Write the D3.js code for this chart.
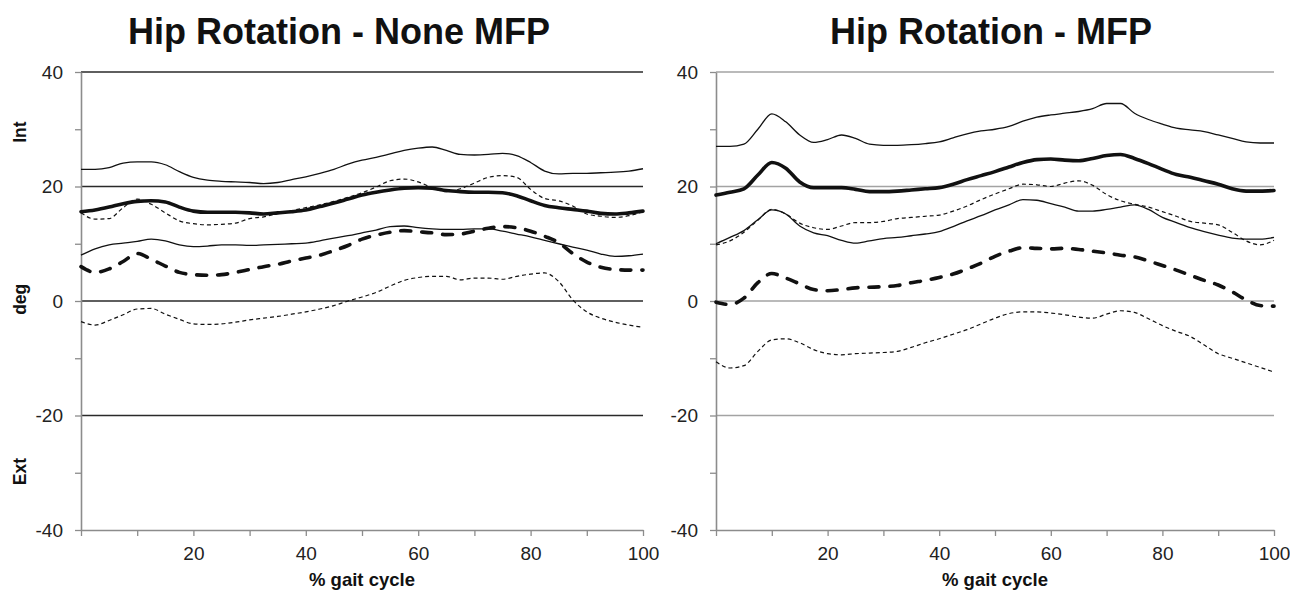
<!DOCTYPE html>
<html><head><meta charset="utf-8">
<script src="https://cdn.jsdelivr.net/npm/d3@7"></script>
<style>body{margin:0;background:#fff}svg{display:block}</style></head>
<body><svg id="c" width="1290" height="592"></svg>
<script>
// ---- data ----
const gait = [0,2.5,5,7.5,10,12.5,15,17.5,20,22.5,25,27.5,30,32.5,35,37.5,40,42.5,45,47.5,50,52.5,55,57.5,60,62.5,65,67.5,70,72.5,75,77.5,80,82.5,85,87.5,90,92.5,95,97.5,100];
const yTickValues = [-40,-30,-20,-10,0,10,20,30,40];
const xTickValues = [0,10,20,30,40,50,60,70,80,90,100];
const titles = ["Hip Rotation - None MFP", "Hip Rotation - MFP"];
const sideLabels = ["Int", "deg", "Ext"];
const sideLabelValues = [29.5, 0.3, -29.8];

// None MFP
const noneSolidUpper = [23.0,23.0,23.3,24.1,24.3,24.3,23.8,22.6,21.6,21.1,20.9,20.8,20.7,20.5,20.7,21.2,21.7,22.3,23.0,23.9,24.6,25.1,25.7,26.3,26.7,26.9,26.3,25.6,25.5,25.6,25.8,25.4,24.2,22.7,22.2,22.3,22.3,22.4,22.5,22.7,23.1];
const noneSolidMean  = [15.6,15.9,16.4,17.0,17.4,17.5,17.3,16.4,15.7,15.5,15.5,15.5,15.4,15.2,15.4,15.6,15.9,16.5,17.1,17.8,18.5,19.0,19.4,19.7,19.8,19.7,19.3,19.1,19.0,19.0,18.9,18.4,17.5,16.7,16.3,16.0,15.7,15.3,15.2,15.4,15.7];
const noneSolidLower = [8.0,9.1,9.8,10.1,10.4,10.8,10.5,9.8,9.5,9.6,9.8,9.8,9.7,9.8,9.9,10.0,10.1,10.5,11.0,11.4,11.9,12.4,13.0,13.1,12.8,12.6,12.5,12.5,12.6,12.6,12.2,11.7,11.2,10.6,10.0,9.4,8.9,8.2,7.8,7.9,8.2];
const noneDashUpper  = [15.4,14.3,14.4,16.3,17.8,16.9,15.4,14.0,13.5,13.3,13.4,13.6,14.4,14.7,15.3,15.8,16.3,16.8,17.4,18.1,18.9,19.9,21.0,21.3,20.8,19.8,19.1,19.6,20.6,21.6,21.9,21.6,19.5,17.9,17.5,16.6,15.2,14.8,14.6,14.9,15.6];
const noneDashMean   = [6.0,5.0,5.6,6.9,8.3,7.3,6.1,5.0,4.6,4.5,4.6,5.0,5.5,6.0,6.4,7.0,7.5,8.0,8.8,9.7,10.8,11.5,12.0,12.3,12.1,11.9,11.6,11.7,12.2,12.7,13.0,12.8,12.2,11.3,10.2,8.3,6.8,5.9,5.5,5.4,5.4];
const noneDashLower  = [-3.6,-4.2,-3.4,-2.4,-1.4,-1.3,-2.3,-3.2,-4.0,-4.1,-4.0,-3.7,-3.3,-3.0,-2.7,-2.3,-1.9,-1.4,-0.8,0.0,0.7,1.5,2.6,3.6,4.1,4.3,4.3,3.7,4.0,4.0,3.8,4.3,4.7,4.9,3.4,0.2,-1.9,-3.0,-3.7,-4.2,-4.6];

// MFP
const mfpSolidUpper = [27.0,27.0,27.4,30.0,32.7,31.3,29.0,27.7,28.2,29.0,28.4,27.4,27.2,27.2,27.3,27.5,27.8,28.5,29.2,29.7,30.0,30.5,31.4,32.1,32.5,32.8,33.1,33.6,34.5,34.5,32.8,31.7,30.9,30.2,29.9,29.6,29.0,28.4,27.8,27.6,27.6];
const mfpSolidMean  = [18.5,19.0,19.6,22.0,24.2,23.2,20.8,19.8,19.8,19.8,19.5,19.1,19.1,19.2,19.4,19.6,19.8,20.4,21.2,21.9,22.6,23.4,24.2,24.7,24.8,24.6,24.5,24.9,25.4,25.6,24.9,24.0,23.0,22.1,21.6,21.0,20.4,19.6,19.2,19.2,19.3];
const mfpSolidLower = [10.0,11.1,12.3,14.2,15.9,15.2,13.1,11.9,11.4,10.6,10.1,10.5,10.9,11.1,11.4,11.7,12.1,13.0,14.0,14.9,15.9,16.8,17.7,17.6,17.0,16.4,15.7,15.7,16.0,16.4,16.8,16.0,14.6,13.7,12.8,12.1,11.5,11.0,10.8,10.8,11.1];
const mfpDashUpper  = [9.8,10.5,12.0,14.1,16.0,15.2,13.6,12.8,12.5,13.1,13.7,13.7,13.9,14.4,14.6,14.8,15.0,15.7,16.6,17.7,18.7,19.6,20.4,20.3,20.0,20.6,21.0,20.2,18.6,17.5,16.9,16.4,15.6,14.8,13.9,13.6,13.3,12.0,10.5,9.8,10.6];
const mfpDashMean   = [-0.2,-0.6,0.5,3.2,4.8,4.0,3.0,2.0,1.8,2.0,2.3,2.4,2.5,2.7,3.2,3.6,4.1,4.7,5.6,6.6,7.8,8.7,9.3,9.2,9.1,9.2,9.0,8.7,8.4,8.0,7.7,7.0,6.2,5.4,4.5,3.6,2.8,1.6,0.2,-0.8,-0.9];
const mfpDashLower  = [-10.6,-11.7,-11.3,-8.8,-6.8,-6.6,-7.3,-8.5,-9.2,-9.4,-9.2,-9.1,-9.0,-8.8,-8.1,-7.3,-6.6,-5.8,-5.0,-4.0,-3.0,-2.2,-1.9,-1.9,-2.1,-2.4,-2.8,-3.0,-2.3,-1.7,-2.0,-3.1,-4.3,-5.3,-6.2,-7.7,-9.2,-10.0,-10.8,-11.6,-12.4];

// ---- drawing ----
const styles = {
  thinSolid: {w: 1.3, dash: null, cap: "butt"},
  thickSolid: {w: 3.6, dash: null, cap: "round"},
  thinDash: {w: 1.2, dash: "4,3", cap: "butt"},
  thickDash: {w: 3.6, dash: "10,11", cap: "round"}
};
const panels = [
  {title: titles[0], left: 81, right: 643, titleX: 339, grid: "#2a2a2a", side: true,
   series: [[noneSolidUpper,"thinSolid"],[noneSolidLower,"thinSolid"],[noneDashUpper,"thinDash"],[noneDashLower,"thinDash"],[noneDashMean,"thickDash"],[noneSolidMean,"thickSolid"]]},
  {title: titles[1], left: 716, right: 1274, titleX: 991, grid: "#a3a3a3", side: false,
   series: [[mfpSolidUpper,"thinSolid"],[mfpSolidLower,"thinSolid"],[mfpDashUpper,"thinDash"],[mfpDashLower,"thinDash"],[mfpDashMean,"thickDash"],[mfpSolidMean,"thickSolid"]]}
];
const plotTop = 72, plotBottom = 530;
const font = "'Liberation Sans', Arial, Helvetica, sans-serif";
const svg = d3.select("#c");

panels.forEach(p => {
  const x = d3.scaleLinear().domain([0, 100]).range([p.left, p.right]);
  const y = d3.scaleLinear().domain([-40, 40]).range([plotBottom, plotTop]);
  const g = svg.append("g");

  g.append("text").attr("x", p.titleX).attr("y", 44).attr("text-anchor", "middle")
    .attr("font-family", font).attr("font-weight", "bold").attr("font-size", 36)
    .attr("fill", "#111").text(p.title);

  g.selectAll(".grid").data([-20, 0, 20, 40]).enter().append("line")
    .attr("x1", p.left).attr("x2", p.right)
    .attr("y1", d => y(d)).attr("y2", d => y(d))
    .attr("stroke", p.grid).attr("stroke-width", 1.5);

  const ya = g.append("g").attr("transform", `translate(${p.left},0)`)
    .call(d3.axisLeft(y).tickValues(yTickValues).tickSize(6).tickSizeOuter(0).tickPadding(12)
      .tickFormat(d => d % 20 === 0 ? d : ""));
  ya.select(".domain").attr("stroke", "#8c8c8c").attr("stroke-width", 1.6);
  ya.selectAll(".tick line").attr("stroke", "#8c8c8c").attr("stroke-width", 1.3);
  ya.selectAll(".tick text").attr("font-family", font).attr("font-size", 19).attr("fill", "#222");

  const xa = g.append("g").attr("transform", `translate(0,${plotBottom})`)
    .call(d3.axisBottom(x).tickValues(xTickValues).tickSize(6).tickSizeOuter(0)
      .tickFormat(d => (d > 0 && d % 20 === 0) ? d : ""));
  xa.select(".domain").attr("stroke", "#8c8c8c").attr("stroke-width", 1.6);
  xa.selectAll(".tick line").attr("stroke", "#8c8c8c").attr("stroke-width", 1.3);
  xa.selectAll(".tick text").attr("font-family", font).attr("font-size", 19).attr("fill", "#222")
    .attr("y", 30).attr("dy", null);

  g.append("text").attr("x", (p.left + p.right) / 2).attr("y", 586).attr("text-anchor", "middle")
    .attr("font-family", font).attr("font-weight", "bold").attr("font-size", 18.5)
    .attr("fill", "#111").text("% gait cycle");

  if (p.side) {
    sideLabels.forEach((t, i) => {
      g.append("text").attr("transform", `translate(26,${y(sideLabelValues[i])}) rotate(-90)`)
        .attr("text-anchor", "middle").attr("font-family", font).attr("font-weight", "bold")
        .attr("font-size", 17.5).attr("fill", "#111").text(t);
    });
  }

  const line = d3.line().x((d, i) => x(gait[i])).y(d => y(d)).curve(d3.curveMonotoneX);
  p.series.forEach(([vals, st]) => {
    const s = styles[st];
    g.append("path").datum(vals).attr("d", line).attr("fill", "none")
      .attr("stroke", "#111").attr("stroke-width", s.w)
      .attr("stroke-dasharray", s.dash).attr("stroke-linecap", s.cap)
      .attr("stroke-linejoin", "round");
  });
});
</script>
</body></html>
